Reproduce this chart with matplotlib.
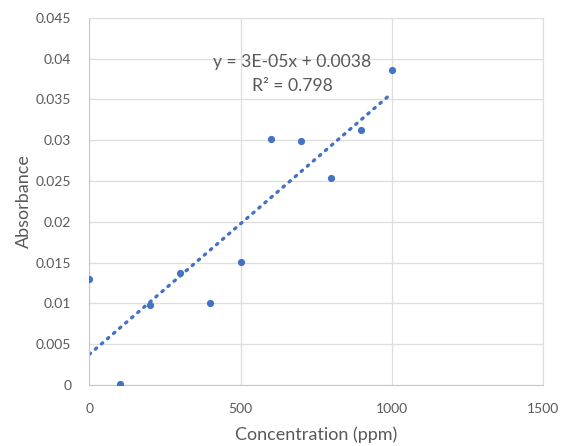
import numpy as np
import matplotlib
matplotlib.use("Agg")
import matplotlib.pyplot as plt

# data
conc = [0, 100, 200, 300, 400, 500, 600, 700, 800, 900, 1000]
absorb = [0.0130, 0.0001, 0.0098, 0.0137, 0.0101, 0.0151,
          0.0302, 0.0299, 0.0254, 0.0313, 0.0386]
eq_text = "y = 3E-05x + 0.0038"
r2_text = "R² = 0.798"

BLUE = "#4472C4"
GREY_TXT = "#595959"
GRID = "#dedede"

plt.rcParams.update({"font.family": ["Lato", "DejaVu Sans"]})

fig = plt.figure(figsize=(5.65, 4.46), dpi=100)
ax = fig.add_axes([0.158, 0.137, 0.803, 0.823])

x = np.array(conc, float); y = np.array(absorb, float)
b1, b0 = np.polyfit(x, y, 1)
xl = np.array([0, 1000])
ax.plot(xl, b0 + b1 * xl, color=BLUE, lw=2.4, linestyle=(0, (0.5, 1.9)),
        dash_capstyle="round", zorder=2)
ax.scatter(x, y, s=27, color=BLUE, zorder=3, linewidths=0)

ax.text(672, 0.0396, eq_text, ha="center", va="center", fontsize=12.6, color=GREY_TXT)
ax.text(672, 0.0366, r2_text, ha="center", va="center", fontsize=12.6, color=GREY_TXT)

ax.set_xlim(0, 1500)
ax.set_ylim(0, 0.045)
ax.set_xticks([0, 500, 1000, 1500])
ax.set_yticks(np.arange(0, 0.0451, 0.005))
ax.set_yticklabels(["0", "0.005", "0.01", "0.015", "0.02", "0.025", "0.03",
                    "0.035", "0.04", "0.045"])
ax.tick_params(length=0, labelsize=10, labelcolor=GREY_TXT)
ax.tick_params(axis="y", pad=13)
ax.tick_params(axis="x", pad=13)
ax.grid(color=GRID, lw=0.9)
ax.set_axisbelow(True)
for s in ax.spines.values():
    s.set_color(GRID)
ax.spines["left"].set_color("#c8c8c8")
ax.spines["bottom"].set_color("#c8c8c8")

ax.set_xlabel("Concentration (ppm)", fontsize=13, color=GREY_TXT, labelpad=8)
ax.set_ylabel("Absorbance", fontsize=13, color=GREY_TXT, labelpad=3)

fig.savefig("out.png", dpi=100)
